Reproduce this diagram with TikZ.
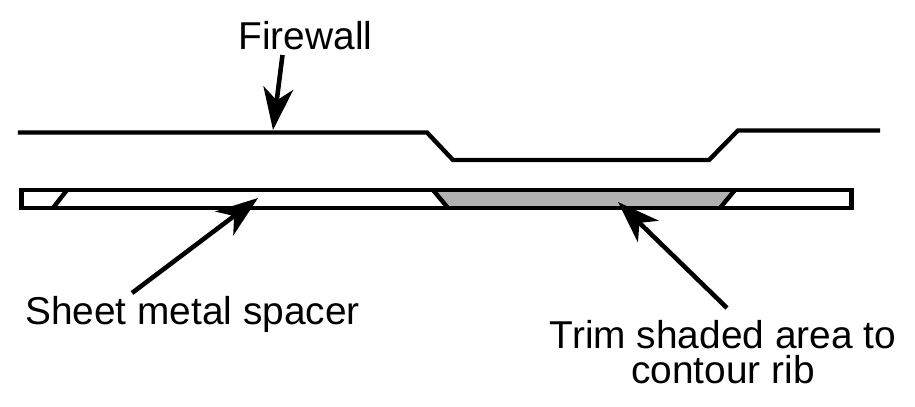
\documentclass[tikz,border=0pt]{standalone}
\usepackage{fontspec}
\setmainfont{Liberation Sans}
\usetikzlibrary{arrows.meta}
\tikzset{
  rotulo/.style={font=\fontsize{11.05pt}{9.9pt}\selectfont, inner sep=0pt, align=center},
  seta/.style={-{Stealth[length=12pt,width=8.5pt,inset=3.5pt]}, line width=1.3pt},
  chapa/.style={line width=1.25pt, line join=miter}
}
\begin{document}
\begin{tikzpicture}
    \useasboundingbox (0,0) rectangle (9.15,4.07);

    % Area sombreada
    \fill[gray!60] (4.33,2.17) -- (4.48,1.99) -- (7.20,1.99) -- (7.35,2.17) -- cycle;

    % Parede de fogo
    \draw[chapa] (0.18,2.745) -- (4.27,2.745) -- (4.53,2.47) -- (7.09,2.47) -- (7.38,2.765) -- (8.80,2.765);

    % Espacador
    \draw[chapa] (0.215,1.99) rectangle (8.515,2.17);
    \draw[chapa] (0.53,1.99) -- (0.67,2.17);
    \draw[chapa] (4.33,2.17) -- (4.48,1.99);
    \draw[chapa] (7.20,1.99) -- (7.35,2.17);

    % Textos
    \node[rotulo] (firewall) at (3.055,3.71) {Firewall};
    \node[rotulo] (spacer) at (1.925,0.93) {Sheet metal spacer};
    \node[rotulo] (trim) at (7.23,0.55) {Trim shaded area to\\contour rib};

    % Pontas das setas
    \coordinate (fw) at (2.73,2.77);
    \coordinate (sp) at (2.58,2.09);
    \coordinate (tr) at (6.18,2.05);
    \coordinate (fwb) at (2.825,3.52);
    \coordinate (spb) at (1.32,1.14);
    \coordinate (trb) at (7.27,0.99);

    \draw[seta] (fwb) -- (fw);
    \draw[seta] (spb) -- (sp);
    \draw[seta] (trb) -- (tr);
\end{tikzpicture}
\end{document}
